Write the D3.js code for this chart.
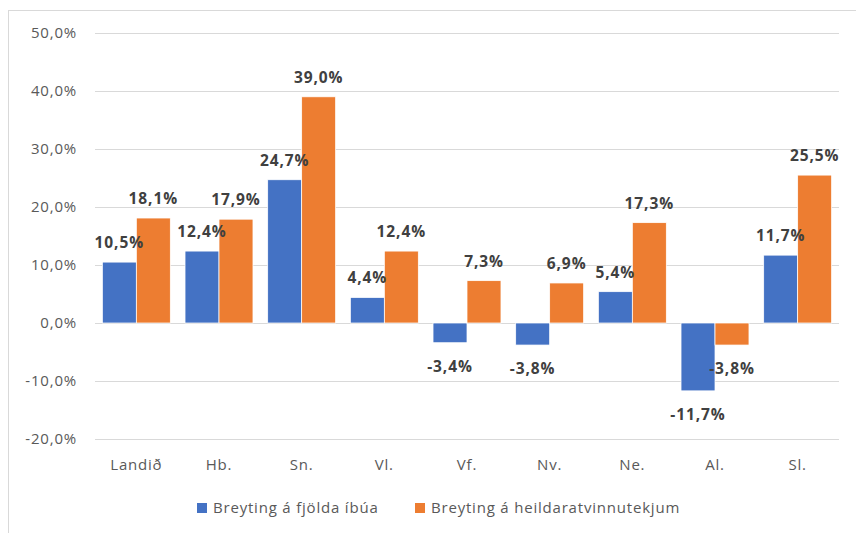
<!DOCTYPE html>
<meta charset="utf-8">
<style>
  body { margin: 0; background: #fff; }
  text { font-family: "Open Sans", "Noto Sans", sans-serif; }
  .tick-label { fill: #595959; font-size: 15px; letter-spacing: 0.8px; }
  .data-label { fill: #404040; font-size: 15.5px; font-weight: 700; letter-spacing: 0.9px; }
</style>
<body>
<div id="chart"></div>
<script src="https://d3js.org/d3.v7.min.js"></script>
<script>

  // data
  var categories = ["Landið", "Hb.", "Sn.", "Vl.", "Vf.", "Nv.", "Ne.", "Al.", "Sl."];
  var seriesNames = ["Breyting á fjölda íbúa", "Breyting á heildaratvinnutekjum"];
  var residents = [10.5, 12.4, 24.7, 4.4, -3.4, -3.8, 5.4, -11.7, 11.7];
  var income = [18.1, 17.9, 39.0, 12.4, 7.3, 6.9, 17.3, -3.8, 25.5];
  var yTicks = [-20, -10, 0, 10, 20, 30, 40, 50];
  var colors = ["#4472C4", "#ED7D31"];

  var width = 856, height = 533;

  var svg = d3.select("#chart").append("svg")
    .attr("width", width)
    .attr("height", height);

  // chart border
  svg.append("rect")
    .attr("x", 8.5).attr("y", 10.5)
    .attr("width", 900).attr("height", 600)
    .attr("fill", "none")
    .attr("stroke", "#d9d9d9")
    .attr("stroke-width", 1);

  var x0 = d3.scaleBand()
    .domain(categories)
    .range([95, 839])
    .paddingInner(0.178)
    .paddingOuter(0.089);

  var x1 = d3.scaleBand()
    .domain([0, 1])
    .range([0, x0.bandwidth()]);

  var y = d3.scaleLinear()
    .domain([-20, 50])
    .range([439, 33]);

  var fmt = function (v) { return v.toFixed(1).replace(".", ",") + "%"; };

  // gridlines
  svg.append("g").selectAll("line")
    .data(yTicks)
    .join("line")
    .attr("x1", 95).attr("x2", 839)
    .attr("y1", d => Math.round(y(d)) + 0.5)
    .attr("y2", d => Math.round(y(d)) + 0.5)
    .attr("stroke", "#d9d9d9")
    .attr("stroke-width", 1.2);

  // y tick labels
  svg.append("g").selectAll("text")
    .data(yTicks)
    .join("text")
    .attr("class", "tick-label")
    .attr("x", 77)
    .attr("y", d => y(d))
    .attr("dy", "0.35em")
    .attr("text-anchor", "end")
    .text(d => d.toFixed(1).replace(".", ",") + "%");

  // x category labels
  svg.append("g").selectAll("text")
    .data(categories)
    .join("text")
    .attr("class", "tick-label")
    .attr("x", d => x0(d) + x0.bandwidth() / 2)
    .attr("y", 465)
    .attr("dy", "0.35em")
    .attr("text-anchor", "middle")
    .text(d => d);

  var series = [residents, income];
  var rows = [];
  series.forEach(function (vals, s) {
    vals.forEach(function (v, i) {
      rows.push({ cat: categories[i], s: s, v: v });
    });
  });

  // bars
  svg.append("g").selectAll("rect")
    .data(rows)
    .join("rect")
    .attr("x", d => x0(d.cat) + x1(d.s))
    .attr("width", x1.bandwidth())
    .attr("y", d => y(Math.max(0, d.v)))
    .attr("height", d => Math.abs(y(d.v) - y(0)))
    .attr("fill", d => colors[d.s])
    .attr("stroke", "#fff")
    .attr("stroke-width", 0.75);

  // data labels
  svg.append("g").selectAll("text")
    .data(rows)
    .join("text")
    .attr("class", "data-label")
    .attr("x", d => x0(d.cat) + x1(d.s) + x1.bandwidth() / 2)
    .attr("y", d => d.v >= 0 ? y(d.v) - 14 : y(d.v) + 29)
    .attr("text-anchor", "middle")
    .text(d => fmt(d.v));

  // legend
  var legendX = [197, 415];
  var lg = svg.append("g").selectAll("g")
    .data(seriesNames)
    .join("g")
    .attr("transform", (d, i) => "translate(" + legendX[i] + ",503)");
  lg.append("rect")
    .attr("width", 10).attr("height", 10)
    .attr("fill", (d, i) => colors[i]);
  lg.append("text")
    .attr("class", "tick-label")
    .attr("x", 16).attr("y", 5)
    .attr("dy", "0.35em")
    .text(d => d);

</script>
</body>
